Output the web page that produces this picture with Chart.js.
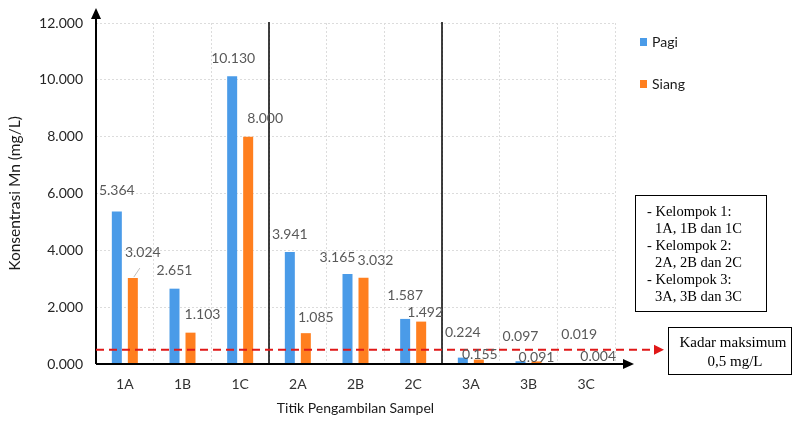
<!DOCTYPE html>
<html>
<head>
<meta charset="utf-8">
<script src="https://cdn.jsdelivr.net/npm/chart.js@4/dist/chart.umd.min.js"></script>
<style>
  body { margin: 0; background: #fff; }
</style>
</head>
<body>
<canvas id="grafikMn" width="793" height="421"></canvas>
<script>
    // data konsentrasi Mn (mg/L)
    const kategori = ['1A', '1B', '1C', '2A', '2B', '2C', '3A', '3B', '3C'];
    const pagi = [5.364, 2.651, 10.130, 3.941, 3.165, 1.587, 0.224, 0.097, 0.019];
    const siang = [3.024, 1.103, 8.000, 1.085, 3.032, 1.492, 0.155, 0.091, 0.004];
    const kadarMaks = 0.5;
    const kelompokTeks = ['- Kelompok 1:', '1A, 1B dan 1C', '- Kelompok 2:', '2A, 2B dan 2C', '- Kelompok 3:', '3A, 3B dan 3C'];

    // geser label (dx, dy dari puncak batang)
    const geserPagi = [[0, -21], [0, -18], [1, -18], [0, -18], [-10, -17], [0, -23], [0, -25], [0, -25], [1, -29]];
    const geserSiang = [[10, -26], [12, -18], [17, -18], [10, -16], [12, -17], [4, -9], [1, -5], [0, -4], [4, -7]];

    const biru = '#4A9BE8';
    const oranye = '#FF7F1F';
    const fontUtama = 'Lato, "Open Sans", sans-serif';
    const fontSerif = '"Liberation Serif", "DejaVu Serif", serif';

    function panah(ctx, x, y, arah, w, h) {
        ctx.beginPath();
        if (arah === 'atas') {
            ctx.moveTo(x, y); ctx.lineTo(x - w, y + h); ctx.lineTo(x + w, y + h);
        } else {
            ctx.moveTo(x, y); ctx.lineTo(x - h, y - w); ctx.lineTo(x - h, y + w);
        }
        ctx.closePath();
        ctx.fill();
    }

    const hiasan = {
        id: 'hiasan',
        afterDatasetsDraw(chart) {
            const ctx = chart.ctx;
            const area = chart.chartArea;
            const sx = chart.scales.x;
            const sy = chart.scales.y;
            ctx.save();

            // garis pemisah kelompok
            ctx.strokeStyle = '#000';
            ctx.lineWidth = 1.5;
            [3, 6].forEach(i => {
                const x = Math.round((sx.getPixelForValue(i - 1) + sx.getPixelForValue(i)) / 2);
                ctx.beginPath();
                ctx.moveTo(x, area.top - 1);
                ctx.lineTo(x, area.bottom);
                ctx.stroke();
            });

            // sumbu dengan panah
            ctx.fillStyle = '#000';
            ctx.lineWidth = 2;
            ctx.beginPath();
            ctx.moveTo(area.left, area.bottom);
            ctx.lineTo(area.left, area.top - 8);
            ctx.moveTo(area.left, area.bottom);
            ctx.lineTo(area.right + 10, area.bottom);
            ctx.stroke();
            panah(ctx, area.left, area.top - 15, 'atas', 5, 11);
            panah(ctx, area.right + 19, area.bottom, 'kanan', 5, 11);

            // garis kadar maksimum
            const yk = sy.getPixelForValue(kadarMaks);
            ctx.strokeStyle = '#E01818';
            ctx.fillStyle = '#E01818';
            ctx.lineWidth = 2;
            ctx.setLineDash([8, 5]);
            ctx.beginPath();
            ctx.moveTo(area.left, yk);
            ctx.lineTo(654, yk);
            ctx.stroke();
            ctx.setLineDash([]);
            panah(ctx, 664, yk, 'kanan', 5, 10);

            // label nilai
            ctx.font = '14px ' + fontUtama;
            ctx.fillStyle = '#595959';
            ctx.textAlign = 'center';
            ctx.textBaseline = 'middle';
            [[0, pagi, geserPagi], [1, siang, geserSiang]].forEach(([d, nilai, geser]) => {
                chart.getDatasetMeta(d).data.forEach((bar, i) => {
                    ctx.fillText(nilai[i].toFixed(3), bar.x + geser[i][0], bar.y + geser[i][1]);
                });
            });
            // garis penunjuk label 3.024
            const b0 = chart.getDatasetMeta(1).data[0];
            ctx.strokeStyle = '#bfbfbf';
            ctx.lineWidth = 1;
            ctx.beginPath();
            ctx.moveTo(b0.x + 1, b0.y - 1);
            ctx.lineTo(b0.x + 7, b0.y - 10);
            ctx.stroke();

            // legenda
            ctx.textAlign = 'left';
            ctx.fillStyle = biru;
            ctx.fillRect(640, 38, 7, 8);
            ctx.fillStyle = oranye;
            ctx.fillRect(640, 80, 7, 8);
            ctx.fillStyle = '#1a1a1a';
            ctx.fillText('Pagi', 652, 42);
            ctx.fillText('Siang', 652, 84);

            // kotak keterangan kelompok
            ctx.strokeStyle = '#000';
            ctx.lineWidth = 1;
            ctx.fillStyle = '#fff';
            ctx.fillRect(635.5, 195.5, 131, 116);
            ctx.strokeRect(635.5, 195.5, 131, 116);
            ctx.fillStyle = '#000';
            ctx.font = '14.5px ' + fontSerif;
            kelompokTeks.forEach((t, i) => {
                ctx.fillText(t, i % 2 === 0 ? 647 : 655, 212 + i * 17);
            });

            // kotak kadar maksimum
            ctx.fillStyle = '#fff';
            ctx.fillRect(668.5, 327.5, 123, 47);
            ctx.strokeRect(668.5, 327.5, 123, 47);
            ctx.fillStyle = '#000';
            ctx.textAlign = 'center';
            ctx.font = '15px ' + fontSerif;
            ctx.fillText('Kadar maksimum', 733, 343);
            ctx.fillText('0,5 mg/L', 735, 362);

            ctx.restore();
        }
    };

    new Chart(document.getElementById('grafikMn'), {
        type: 'bar',
        data: {
            labels: kategori,
            datasets: [{
                label: 'Pagi',
                data: pagi,
                backgroundColor: biru
            }, {
                label: 'Siang',
                data: siang,
                backgroundColor: oranye
            }]
        },
        options: {
            responsive: false,
            animation: false,
            categoryPercentage: 0.555,
            barPercentage: 0.625,
            layout: {
                padding: { top: 23, right: 178, left: 0, bottom: 0 }
            },
            plugins: {
                legend: { display: false },
                tooltip: { enabled: false }
            },
            scales: {
                x: {
                    grid: { color: '#dcdcdc', drawTicks: false },
                    border: { display: false, dash: [2, 2] },
                    ticks: { color: '#333', padding: 12, font: { family: fontUtama, size: 14 } },
                    title: {
                        display: true,
                        text: 'Titik Pengambilan Sampel',
                        color: '#1a1a1a',
                        font: { family: fontUtama, size: 14 },
                        padding: { top: 4, bottom: 4 }
                    },
                    afterFit: scale => { scale.height = 57; }
                },
                y: {
                    min: 0,
                    max: 12,
                    grid: { color: '#dcdcdc', drawTicks: false },
                    border: { display: false, dash: [2, 2] },
                    ticks: {
                        stepSize: 2,
                        color: '#262626',
                        padding: 13,
                        font: { family: fontUtama, size: 14 },
                        callback: v => v.toFixed(3)
                    },
                    title: {
                        display: true,
                        text: 'Konsentrasi Mn (mg/L)',
                        color: '#1a1a1a',
                        font: { family: fontUtama, size: 15.5 },
                        padding: { top: 6, bottom: 4 }
                    },
                    afterFit: scale => { scale.width = 96; }
                }
            }
        },
        plugins: [hiasan]
    });
</script>
</body>
</html>
